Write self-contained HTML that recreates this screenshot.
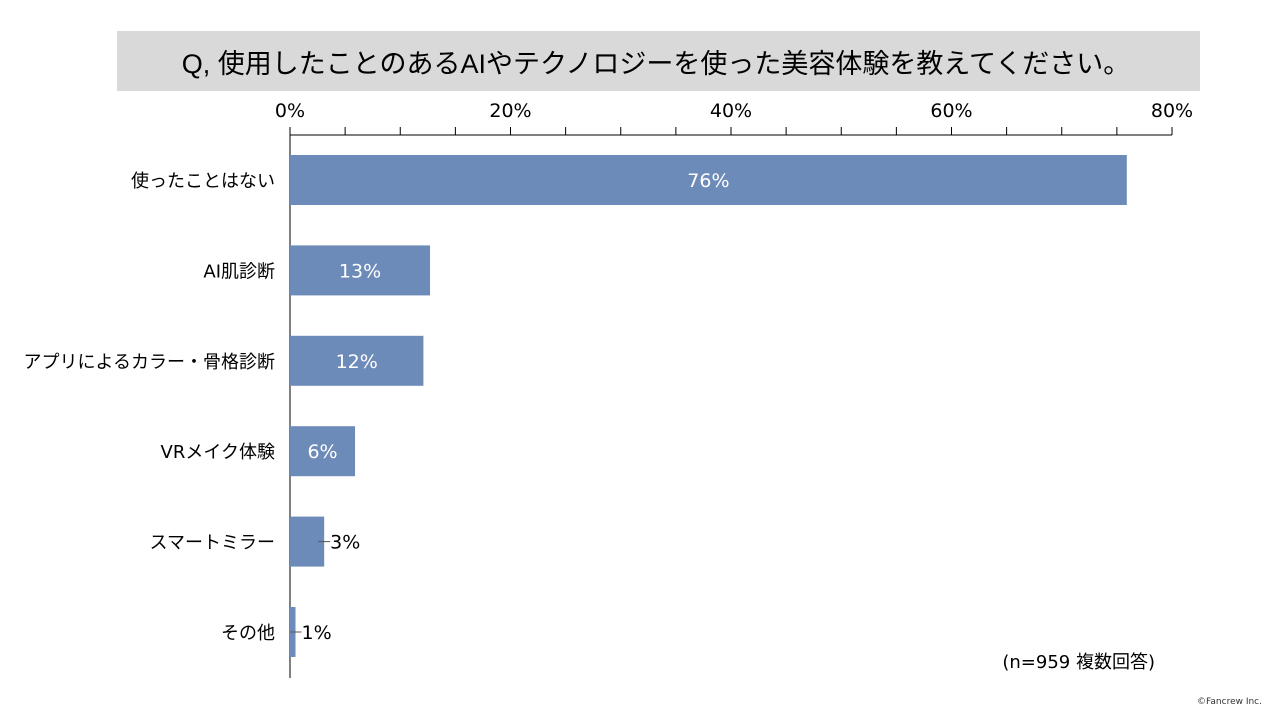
<!DOCTYPE html>
<html><head><meta charset="utf-8"><style>
body{margin:0;width:1280px;height:720px;background:#fff;overflow:hidden;font-family:"DejaVu Sans","Noto Sans CJK JP",sans-serif}
</style></head><body>
<svg id="c" width="1280" height="720" style="position:absolute;left:0;top:0" font-family="DejaVu Sans, Noto Sans CJK JP, sans-serif">
<rect x="117" y="31" width="1083" height="60" fill="#d9d9d9"/>
<text x="656" y="73" text-anchor="middle" font-size="27" fill="#000" font-family="Liberation Sans, Noto Sans CJK JP, sans-serif">Q, 使用したことのあるAIやテクノロジーを使った美容体験を教えてください。</text>
<g id="g"></g>
<text x="1155" y="668" text-anchor="end" font-size="18" fill="#000">(n=959 複数回答)</text>
<text x="1262" y="704" text-anchor="end" font-size="9" fill="#333">©Fancrew Inc.</text>
</svg>
<script>
const categories=["使ったことはない","AI肌診断","アプリによるカラー・骨格診断","VRメイク体験","スマートミラー","その他"];
const values=[75.9,12.7,12.1,5.9,3.1,0.5];
const valueLabels=["76%","13%","12%","6%","3%","1%"];
const tickValues=[0,20,40,60,80];
const NS="http://www.w3.org/2000/svg";
const g=document.getElementById('g');
const x0=290,x1=1172,xmax=80,y0=135,rowH=90.4,firstTop=155,barH=50;
const xs=v=>x0+(x1-x0)*v/xmax;
function mk(t,a,txt){const e=document.createElementNS(NS,t);for(const k in a)e.setAttribute(k,a[k]);if(txt!=null)e.textContent=txt;g.appendChild(e);return e;}
let e=mk('line',{x1:x0,y1:y0,x2:x1,y2:y0,stroke:'#000','stroke-width':1});


e=mk('line',{x1:x0,y1:y0,x2:x0,y2:678,stroke:'#000','stroke-width':1});


for(let v=0;v<=xmax;v+=5){e=mk('line',{x1:xs(v),y1:y0-8,x2:xs(v),y2:y0,stroke:'#000','stroke-width':1});

}
tickValues.forEach(v=>{e=mk('text',{x:xs(v),y:117,'text-anchor':'middle','font-size':19,fill:'#000'},v+'%');

});
categories.forEach((c,i)=>{
 const top=firstTop+i*rowH,cy=top+barH/2,w=xs(values[i])-x0;
 e=mk('rect',{x:x0,y:top,width:w,height:barH,fill:'#6d8bb8'});
 
 
 e=mk('text',{x:275,y:cy+7,'text-anchor':'end','font-size':18,fill:'#000'},c);
 
 
 if(w>50){e=mk('text',{x:x0+w/2,y:cy+7,'text-anchor':'middle','font-size':19,fill:'#fff'},valueLabels[i]);}
 else{mk('line',{x1:x0+w-6,y1:cy,x2:x0+w+6,y2:cy,stroke:'#555','stroke-width':1});
  e=mk('text',{x:x0+w+6,y:cy+7,'font-size':19,fill:'#000'},valueLabels[i]);}
 
 
});
</script>
</body></html>
